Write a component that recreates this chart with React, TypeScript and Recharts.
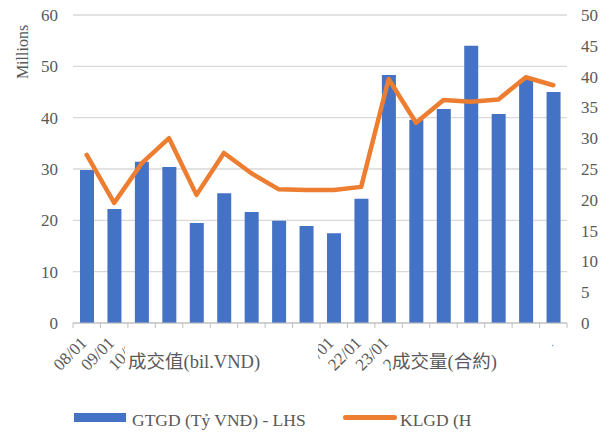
import React from "react"
import { ComposedChart, Bar, Line, XAxis, YAxis, CartesianGrid } from "recharts"

// ─── Data ─────────────────────────────────────────────────────────────────────
const dates = [
  "08/01", "09/01", "10/01", "11/01", "12/01", "15/01", "16/01", "17/01", "18/01",
  "19/01", "22/01", "23/01", "24/01", "25/01", "26/01", "29/01", "30/01", "31/01",
]
const gtgd = [29.8, 22.2, 31.4, 30.4, 19.5, 25.3, 21.6, 19.9, 18.9, 17.5, 24.2, 48.3, 39.6, 41.7, 54.0, 40.7, 47.4, 45.0]
const klgd = [27.3, 19.5, 25.9, 30.0, 20.8, 27.6, 24.3, 21.7, 21.6, 21.6, 22.1, 39.6, 32.5, 36.2, 35.9, 36.3, 39.9, 38.6]
const leftTicks = [0, 10, 20, 30, 40, 50, 60]
const rightTicks = [0, 5, 10, 15, 20, 25, 30, 35, 40, 45, 50]

const BLUE = "#4472C4"
const ORANGE = "#ED7D31"
const GREY = "#595959"
const FONT = "Liberation Serif, Noto Sans CJK TC, serif"

const PLOT_LEFT = 73
const PLOT_RIGHT = 567
const BAND = (PLOT_RIGHT - PLOT_LEFT) / dates.length

const data = dates.map((d, i) => ({ date: d, gtgd: gtgd[i], klgd: klgd[i] }))

// ─── Ticks ────────────────────────────────────────────────────────────────────
function DateTick({ x, y, payload, index }: any) {
  const ax = x + 1
  const ay = y + 21
  return (
    <g>
      <line x1={x - BAND / 2} x2={x - BAND / 2} y1={y} y2={y + 5} stroke="#bfbfbf" />
      {index === dates.length - 1 && (
        <line x1={x + BAND / 2} x2={x + BAND / 2} y1={y} y2={y + 5} stroke="#bfbfbf" />
      )}
      <text
        x={ax}
        y={ay}
        transform={`rotate(-45 ${ax} ${ay})`}
        textAnchor="end"
        fontSize={17}
        style={{ fontFamily: FONT }}
        fill={GREY}
      >
        {payload.value}
      </text>
    </g>
  )
}

function LegendBox() {
  return (
    <div style={{ position: "absolute", left: 0, top: 398, width: 613, height: 34, fontFamily: FONT, fontSize: 17.5, color: GREY }}>
      <div style={{ position: "absolute", left: 74, top: 15, width: 52, height: 9, background: BLUE }} />
      <span style={{ position: "absolute", left: 132, top: 12, whiteSpace: "nowrap" }}>GTGD (Tỷ VNĐ) - LHS</span>
      <div style={{ position: "absolute", left: 343, top: 17, width: 54, height: 5, borderRadius: 3, background: ORANGE }} />
      <span style={{ position: "absolute", left: 400, top: 12, whiteSpace: "nowrap" }}>KLGD (H</span>
    </div>
  )
}

const boxText: React.CSSProperties = {
  position: "absolute",
  top: 336,
  height: 48,
  background: "#fff",
  display: "flex",
  alignItems: "center",
  fontFamily: FONT,
  fontSize: 18.5,
  color: GREY,
  whiteSpace: "nowrap",
  boxSizing: "border-box",
}

export default function App() {
  return (
    <div style={{ position: "absolute", left: 0, top: 0, width: 613, height: 432, background: "#fff" }}>
      <ComposedChart width={613} height={432} data={data} margin={{ top: 15, right: 0, bottom: 0, left: 0 }}>
        <CartesianGrid vertical={false} stroke="#d9d9d9" strokeWidth={1.3} yAxisId="left" />
        <XAxis
          dataKey="date"
          height={109}
          interval={0}
          tickLine={false}
          tickSize={0}
          tickMargin={0}
          axisLine={{ stroke: "#bfbfbf" }}
          tick={<DateTick />}
        />
        <YAxis
          yAxisId="left"
          width={73}
          domain={[0, 60]}
          ticks={leftTicks}
          axisLine={false}
          tickLine={false}
          tickSize={0}
          tickMargin={15}
          tick={{ fontSize: 17, fill: GREY, style: { fontFamily: FONT } }}
          label={{
            content: () => (
              <text x={22} y={52} transform="rotate(-90 22 52)" textAnchor="middle" dominantBaseline="central" fontSize={16} style={{ fontFamily: FONT }} fill={GREY}>
                Millions
              </text>
            ),
          }}
        />
        <YAxis
          yAxisId="right"
          orientation="right"
          width={46}
          domain={[0, 50]}
          ticks={rightTicks}
          axisLine={false}
          tickLine={false}
          tickSize={0}
          tickMargin={14}
          tick={{ fontSize: 17, fill: GREY, textAnchor: "start", style: { fontFamily: FONT } }}
        />
        <Bar yAxisId="left" dataKey="gtgd" fill={BLUE} barSize={14} isAnimationActive={false} />
        <Line
          yAxisId="right"
          dataKey="klgd"
          stroke={ORANGE}
          strokeWidth={4.5}
          strokeLinejoin="round"
          strokeLinecap="round"
          dot={false}
          activeDot={false}
          isAnimationActive={false}
        />
      </ComposedChart>
      <LegendBox />
      <div style={{ ...boxText, left: 125, width: 193, paddingLeft: 3 }}>成交值(bil.VND)</div>
      <div style={{ ...boxText, left: 391, width: 161, paddingLeft: 1 }}>成交量(合約)</div>
    </div>
  )
}
